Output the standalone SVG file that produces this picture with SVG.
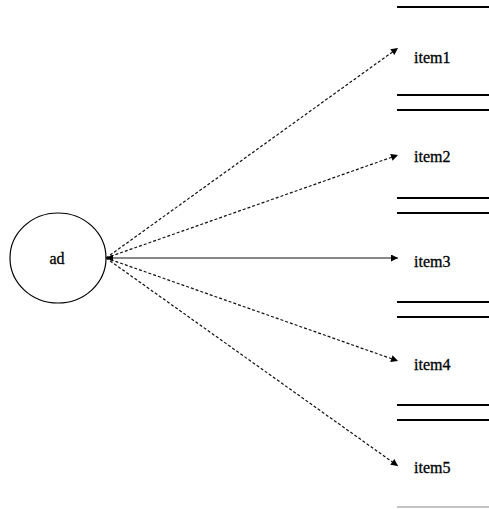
<svg xmlns="http://www.w3.org/2000/svg" width="489" height="509" viewBox="0 0 489 509">
<defs>
<style>
.lbl{font-family:"Liberation Serif","Times New Roman",serif;font-size:16px;fill:#000;stroke:#000;stroke-width:0.3}
.sep{stroke:#000;stroke-width:1.8}
.edge{stroke:#111;stroke-width:1.2;fill:none}
.dash{stroke-dasharray:3,2}
</style>
<marker id="ah" viewBox="0 0 10 10" refX="10" refY="5" markerWidth="11" markerHeight="7" markerUnits="userSpaceOnUse" orient="auto-start-reverse">
<path d="M0,0 L10,5 L0,10 z" fill="#000"/>
</marker>
</defs>
<rect width="489" height="509" fill="#fff"/>
<g id="ad">
<ellipse cx="58" cy="258" rx="48" ry="45" fill="none" stroke="#000" stroke-width="1.2"/>
<text class="lbl" x="57" y="264" text-anchor="middle">ad</text>
</g>
<g id="items">
<line class="sep" x1="397" y1="7" x2="489" y2="7"/>
<line class="sep" x1="397" y1="95" x2="489" y2="95"/>
<line class="sep" x1="397" y1="110" x2="489" y2="110"/>
<line class="sep" x1="397" y1="198" x2="489" y2="198"/>
<line class="sep" x1="397" y1="213" x2="489" y2="213"/>
<line class="sep" x1="397" y1="302" x2="489" y2="302"/>
<line class="sep" x1="397" y1="317" x2="489" y2="317"/>
<line class="sep" x1="397" y1="405" x2="489" y2="405"/>
<line class="sep" x1="397" y1="420" x2="489" y2="420"/>
<line x1="397" y1="507" x2="489" y2="507" stroke="#888" stroke-width="1"/>
</g>
<g id="item1"><text class="lbl" x="414" y="63">item1</text></g>
<g id="item2"><text class="lbl" x="414" y="162">item2</text></g>
<g id="item3"><text class="lbl" x="414" y="267">item3</text></g>
<g id="item4"><text class="lbl" x="414" y="370">item4</text></g>
<g id="item5"><text class="lbl" x="414" y="473">item5</text></g>
<g id="connectors">
<line class="edge dash" x1="106" y1="258" x2="398" y2="48" marker-end="url(#ah)"/>
<line class="edge dash" x1="106" y1="258" x2="398" y2="155" marker-end="url(#ah)"/>
<line class="edge" stroke-width="1.8" x1="106" y1="258" x2="398" y2="258" marker-start="url(#ah)" marker-end="url(#ah)"/>
<line class="edge dash" x1="106" y1="258" x2="398" y2="361" marker-end="url(#ah)"/>
<line class="edge dash" x1="106" y1="258" x2="398" y2="466" marker-end="url(#ah)"/>
</g>
</svg>
